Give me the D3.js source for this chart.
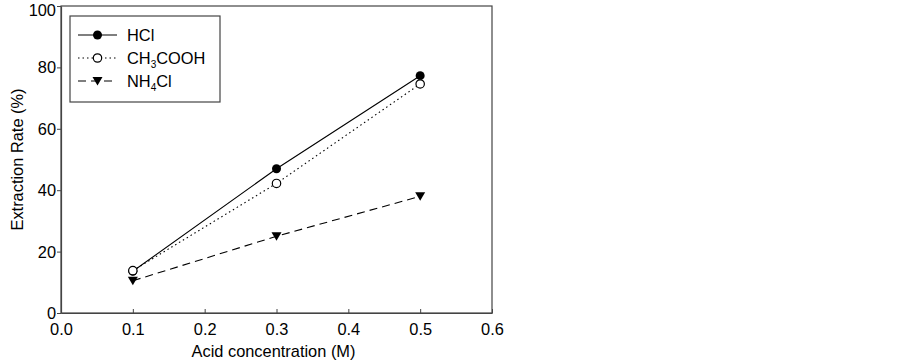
<!DOCTYPE html>
<html>
<head>
<meta charset="utf-8">
<script src="https://cdn.jsdelivr.net/npm/d3@7"></script>
<style>
  body { margin: 0; background: #fff; }
  text { font-family: "Liberation Sans", Arial, sans-serif; fill: #000; }
</style>
</head>
<body>
<div id="chart"></div>
<script>
const concentrations = [0.1, 0.3, 0.5];
const hclValues = [13.6, 47, 77.3];
const aceticValues = [13.8, 42.2, 74.6];
const nh4clValues = [10.5, 25, 38];
const xTicks = [0, 0.1, 0.2, 0.3, 0.4, 0.5, 0.6];
const yTicks = [0, 20, 40, 60, 80, 100];

const width = 903, height = 361;
const margin = { left: 61, right: 411, top: 6, bottom: 48 };
const fontSize = '16.4px';

const svg = d3.select('#chart').append('svg')
    .attr('width', width)
    .attr('height', height);

const x = d3.scaleLinear().domain([0, 0.6]).range([margin.left, width - margin.right]);
const y = d3.scaleLinear().domain([0, 100]).range([height - margin.bottom, margin.top]);

const axisColor = '#444';

// frame
svg.append('rect')
    .attr('x', x(0)).attr('y', y(100))
    .attr('width', x(0.6) - x(0)).attr('height', y(0) - y(100))
    .attr('fill', 'none').attr('stroke', axisColor).attr('stroke-width', 1.2);

// x axis, ticks point inward
const xAxis = svg.append('g')
    .attr('transform', `translate(0,${y(0)})`)
    .call(d3.axisBottom(x).tickValues(xTicks).tickFormat(d3.format('.1f')).tickSizeInner(-4).tickSizeOuter(0));
xAxis.select('.domain').attr('stroke', axisColor).attr('stroke-width', 1.2);
xAxis.selectAll('.tick line').attr('stroke', axisColor);
xAxis.selectAll('text').style('font-size', fontSize).attr('dy', '0.75em').attr('y', 10).attr('fill', '#000');

// y axis, ticks point outward
const yAxis = svg.append('g')
    .attr('transform', `translate(${x(0)},0)`)
    .call(d3.axisLeft(y).tickValues(yTicks).tickSizeInner(4).tickSizeOuter(0).tickPadding(1));
yAxis.select('.domain').attr('stroke', axisColor).attr('stroke-width', 1.2);
yAxis.selectAll('.tick line').attr('stroke', axisColor);
yAxis.selectAll('text').style('font-size', fontSize).attr('fill', '#000')
    .attr('dy', d => d === 100 ? '0.55em' : '0.34em');

// axis titles
svg.append('text')
    .attr('x', (x(0) + x(0.6)) / 2 - 3)
    .attr('y', 357)
    .attr('text-anchor', 'middle')
    .style('font-size', fontSize)
    .text('Acid concentration (M)');

svg.append('text')
    .attr('transform', `translate(23,${(y(0) + y(100)) / 2}) rotate(-90)`)
    .attr('text-anchor', 'middle')
    .style('font-size', fontSize)
    .text('Extraction Rate (%)');

const series = [
    { name: 'HCl', values: hclValues, dash: null, marker: 'filled' },
    { name: 'CH3COOH', values: aceticValues, dash: '1.5,3', marker: 'open' },
    { name: 'NH4Cl', values: nh4clValues, dash: '8,5', marker: 'triangle' }
];

const line = d3.line().x(d => x(d[0])).y(d => y(d[1]));

function drawMarker(g, type, cx, cy) {
    if (type === 'filled') {
        g.append('circle').attr('cx', cx).attr('cy', cy).attr('r', 4.5).attr('fill', '#000');
    } else if (type === 'open') {
        g.append('circle').attr('cx', cx).attr('cy', cy).attr('r', 4.2)
            .attr('fill', '#fff').attr('stroke', '#000').attr('stroke-width', 1.2);
    } else {
        const s = 5;
        g.append('path')
            .attr('d', `M${cx - s},${cy - s * 0.8}L${cx + s},${cy - s * 0.8}L${cx},${cy + s * 0.9}Z`)
            .attr('fill', '#000');
    }
}

series.forEach(s => {
    const pts = concentrations.map((c, i) => [c, s.values[i]]);
    svg.append('path')
        .attr('d', line(pts))
        .attr('fill', 'none')
        .attr('stroke', '#000')
        .attr('stroke-width', 1.1)
        .attr('stroke-dasharray', s.dash);
    const g = svg.append('g');
    pts.forEach(p => drawMarker(g, s.marker, x(p[0]), y(p[1])));
});

// legend
const legend = svg.append('g');
legend.append('rect')
    .attr('x', 70).attr('y', 16).attr('width', 150).attr('height', 86)
    .attr('fill', '#fff').attr('stroke', axisColor).attr('stroke-width', 1.2);

const legendY = [35, 58, 81];
series.forEach((s, i) => {
    const ly = legendY[i];
    legend.append('line')
        .attr('x1', 78).attr('x2', 117).attr('y1', ly).attr('y2', ly)
        .attr('stroke', '#000').attr('stroke-width', 1.1)
        .attr('stroke-dasharray', s.dash);
    drawMarker(legend, s.marker, 97.5, ly);
    const t = legend.append('text')
        .attr('x', 127).attr('y', ly + 6)
        .style('font-size', fontSize);
    if (s.name === 'CH3COOH') {
        t.append('tspan').text('CH');
        t.append('tspan').text('3').style('font-size', '10px').attr('dy', 4);
        t.append('tspan').text('COOH').attr('dy', -4);
    } else if (s.name === 'NH4Cl') {
        t.append('tspan').text('NH');
        t.append('tspan').text('4').style('font-size', '10px').attr('dy', 4);
        t.append('tspan').text('Cl').attr('dy', -4);
    } else {
        t.text(s.name);
    }
});
</script>
</body>
</html>
